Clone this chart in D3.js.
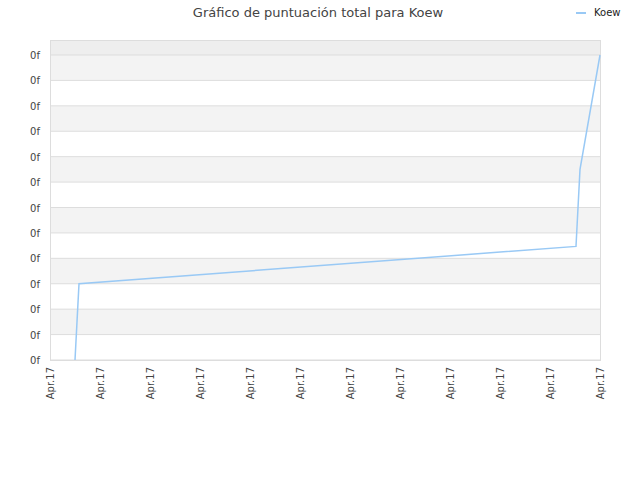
<!DOCTYPE html>
<html><head><meta charset="utf-8">
<script src="https://cdn.jsdelivr.net/npm/d3@7"></script>
<style>body{margin:0;background:#fff}text{font-family:"DejaVu Sans",sans-serif}</style>
</head><body>
<svg id="svg" width="640" height="480"></svg>
<script>
var xTicks = d3.range(12);
var xTickLabels = xTicks.map(() => "Apr.17");
var yTicks = d3.range(13);
var yTickLabels = yTicks.map(() => "0f");
var seriesX = [0.5, 0.54, 0.58, 10.52, 10.6, 11];
var seriesY = [0, 1.5, 3, 4.47, 7.5, 12];

var svg = d3.select("#svg");
var x = d3.scaleLinear().domain([0, 11]).range([50, 600]);
var y = d3.scaleLinear().domain([0, 12]).range([360, 55]);

svg.append("rect").attr("x", 50).attr("y", 40).attr("width", 550).attr("height", 15).attr("fill", "#eeeeee");
svg.selectAll(".band").data(d3.range(12)).enter().append("rect")
    .attr("x", 50).attr("width", 550)
    .attr("y", d => y(12 - d))
    .attr("height", d => y(11 - d) - y(12 - d))
    .attr("fill", d => d % 2 === 0 ? "#f3f3f3" : "#ffffff");
svg.selectAll(".grid").data(yTicks).enter().append("line")
    .attr("x1", 50).attr("x2", 600)
    .attr("y1", d => y(d)).attr("y2", d => y(d))
    .attr("stroke", "#dddddd");
svg.append("rect").attr("x", 50.5).attr("y", 40.5).attr("width", 550).attr("height", 320)
    .attr("fill", "none").attr("stroke", "#dddddd");

svg.selectAll(".yl").data(yTicks).enter().append("text")
    .attr("x", 40).attr("y", d => y(d) + 4)
    .attr("text-anchor", "end").attr("font-size", 10).attr("fill", "#444")
    .text((d, i) => yTickLabels[i]);
svg.selectAll(".xl").data(xTicks).enter().append("text")
    .attr("transform", d => "translate(" + (x(d) + 4) + ",367) rotate(-90)")
    .attr("text-anchor", "end").attr("font-size", 10).attr("fill", "#444")
    .text((d, i) => xTickLabels[i]);

svg.append("path")
    .datum(seriesX.map((d, i) => [d, seriesY[i]]))
    .attr("fill", "none").attr("stroke", "#99c9f5").attr("stroke-width", 1.5)
    .attr("d", d3.line().x(d => x(d[0])).y(d => y(d[1])));

svg.append("text").attr("x", 318).attr("y", 17).attr("text-anchor", "middle")
    .attr("font-size", 13).attr("fill", "#444").text("Gráfico de puntuación total para Koew");
svg.append("line").attr("x1", 576).attr("x2", 586).attr("y1", 13).attr("y2", 13)
    .attr("stroke", "#99c9f5").attr("stroke-width", 2);
svg.append("text").attr("x", 594).attr("y", 16).attr("font-size", 10).attr("fill", "#222").text("Koew");
</script>
</body></html>
